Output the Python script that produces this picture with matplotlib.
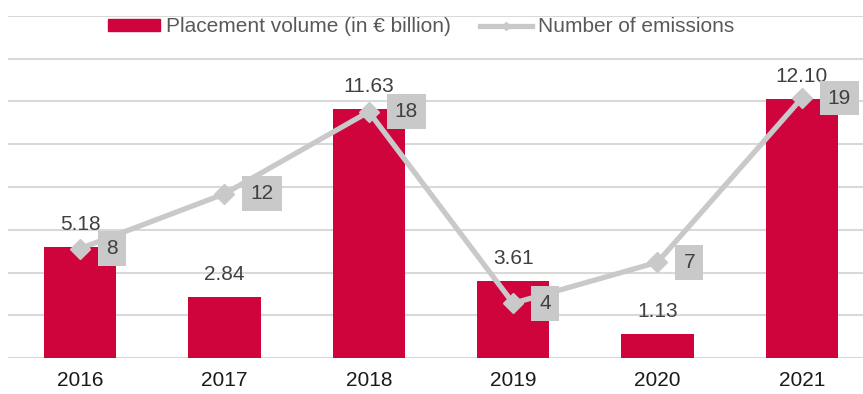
import matplotlib
matplotlib.use("Agg")
import matplotlib.pyplot as plt
from matplotlib.lines import Line2D
from matplotlib.path import Path

plt.rcParams['font.family'] = ['Liberation Sans', 'DejaVu Sans']

years = ['2016', '2017', '2018', '2019', '2020', '2021']
volume = [5.18, 2.84, 11.63, 3.61, 1.13, 12.10]
emissions = [8, 12, 18, 4, 7, 19]

RED = '#D0043C'
GREY = '#C9C9C9'
GRID = '#D9D9D9'


def label_box(x0, y0, width, height, mutation_size):
    # square box, wider on the sides than on top/bottom
    px = 0.39 * mutation_size
    py = 0.38 * mutation_size
    x0, y0 = x0 - px, y0 - py
    x1, y1 = x0 + width + 2 * px, y0 + height + 2 * py
    return Path([(x0, y0), (x1, y0), (x1, y1), (x0, y1), (x0, y0)], closed=True)


W, H = 863, 394
fig = plt.figure(figsize=(W / 100, H / 100), dpi=100)
ax = fig.add_axes([8 / W, 36 / H, 866 / W, 342 / H])
x = list(range(len(years)))

ax.bar(x, volume, width=0.5, color=RED, zorder=2)
for i, v in enumerate(volume):
    ax.annotate('%.2f' % v, (i, v), xytext=(0, 17), textcoords='offset pixels',
                ha='center', va='baseline', fontsize=15, color='#404040')

ax.set_xlim(-0.5, 5.5)
ax.set_ylim(0, 16)
ax.set_yticks(range(0, 17, 2))
ax.yaxis.grid(True, color=GRID, linewidth=1.5, zorder=0)
ax.set_axisbelow(True)
ax.set_xticks(x)
ax.set_xticklabels(years, fontsize=15, color='#1a1a1a')
ax.tick_params(axis='x', length=0, pad=9)
ax.tick_params(axis='y', length=0, labelleft=False)
for s in ax.spines.values():
    s.set_visible(False)

ax2 = ax.twinx()
ax2.plot(x, emissions, color=GREY, linewidth=3.8, marker='D', markersize=10,
         markerfacecolor=GREY, markeredgecolor=GREY, zorder=3)
for i, n in enumerate(emissions):
    ax2.annotate(str(n), (i, n), xytext=(26, 0), textcoords='offset pixels',
                 ha='left', va='center', fontsize=15, color='#404040',
                 bbox=dict(boxstyle=label_box, facecolor=GREY, edgecolor='none'),
                 zorder=4)
ax2.set_ylim(0, 25)
ax2.set_yticks([])
for s in ax2.spines.values():
    s.set_visible(False)

handles = [
    plt.Rectangle((0, 0), 1, 1, color=RED),
    Line2D([], [], color=GREY, linewidth=3.8, marker='D', markersize=4),
]
fig.legend(handles, ['Placement volume (in € billion)', 'Number of emissions'],
           loc='center', bbox_to_anchor=(421 / W, 1 - 27 / H), ncol=2, frameon=False,
           fontsize=15, labelcolor='#595959', handlelength=2.5, handleheight=0.55,
           handletextpad=0.3, columnspacing=1.4, borderpad=0)

fig.savefig('out.png', dpi=100)
